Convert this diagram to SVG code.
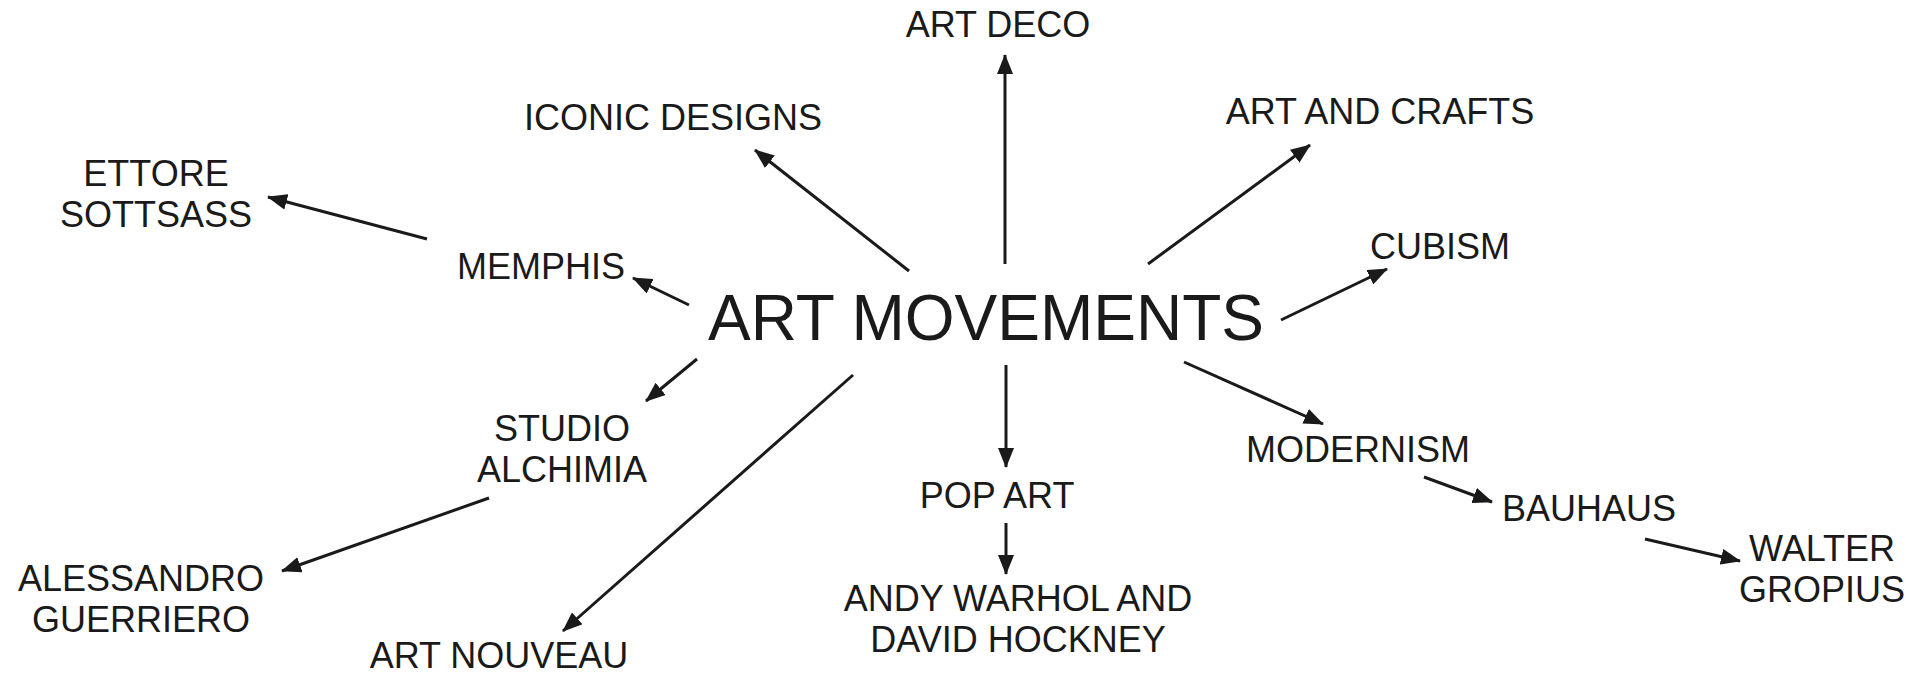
<svg xmlns="http://www.w3.org/2000/svg" width="1928" height="675" viewBox="0 0 1928 675">
<defs>
<marker id="ah" viewBox="0 0 20 16" refX="19" refY="8" markerWidth="20" markerHeight="16" markerUnits="userSpaceOnUse" orient="auto">
<path d="M0,0 L20,8 L0,16 z" fill="#1a1a1a"/>
</marker>
<style>
text{font-family:"Liberation Sans",Arial,sans-serif;fill:#1a1a1a;text-anchor:middle;font-size:36px}
.t{font-size:64px}
.c line{stroke:#1a1a1a;stroke-width:3;marker-end:url(#ah)}
</style>
</defs>
<rect width="1928" height="675" fill="#fff"/>
<g class="c" id="connectors">
<line x1="1005" y1="264" x2="1005" y2="55"/>
<line x1="909" y1="271" x2="755" y2="150"/>
<line x1="1148" y1="264" x2="1310" y2="145"/>
<line x1="1281" y1="320" x2="1387" y2="269"/>
<line x1="689" y1="305" x2="633" y2="278"/>
<line x1="427" y1="239" x2="268" y2="197"/>
<line x1="697" y1="359" x2="646" y2="401"/>
<line x1="489" y1="498" x2="282" y2="571"/>
<line x1="853" y1="375" x2="563" y2="631"/>
<line x1="1006" y1="365" x2="1006" y2="467"/>
<line x1="1006" y1="523" x2="1006" y2="574"/>
<line x1="1184" y1="362" x2="1323" y2="424"/>
<line x1="1424" y1="477" x2="1492" y2="502"/>
<line x1="1645" y1="539" x2="1740" y2="561"/>
</g>
<g id="n-main"><text class="t" x="986" y="340">ART MOVEMENTS</text></g>
<g id="n-artdeco"><text x="998" y="37">ART DECO</text></g>
<g id="n-iconic"><text x="673" y="130">ICONIC DESIGNS</text></g>
<g id="n-crafts"><text x="1380" y="124">ART AND CRAFTS</text></g>
<g id="n-cubism"><text x="1440" y="259">CUBISM</text></g>
<g id="n-ettore"><text x="156" y="186">ETTORE</text><text x="156" y="227">SOTTSASS</text></g>
<g id="n-memphis"><text x="541" y="279">MEMPHIS</text></g>
<g id="n-studio"><text x="562" y="441">STUDIO</text><text x="562" y="482">ALCHIMIA</text></g>
<g id="n-alessandro"><text x="141" y="591">ALESSANDRO</text><text x="141" y="632">GUERRIERO</text></g>
<g id="n-nouveau"><text x="499" y="668">ART NOUVEAU</text></g>
<g id="n-popart"><text x="997" y="508">POP ART</text></g>
<g id="n-andy"><text x="1018" y="611">ANDY WARHOL AND</text><text x="1018" y="652">DAVID HOCKNEY</text></g>
<g id="n-modernism"><text x="1358" y="462">MODERNISM</text></g>
<g id="n-bauhaus"><text x="1589" y="521">BAUHAUS</text></g>
<g id="n-walter"><text x="1822" y="561">WALTER</text><text x="1822" y="602">GROPIUS</text></g>
</svg>
